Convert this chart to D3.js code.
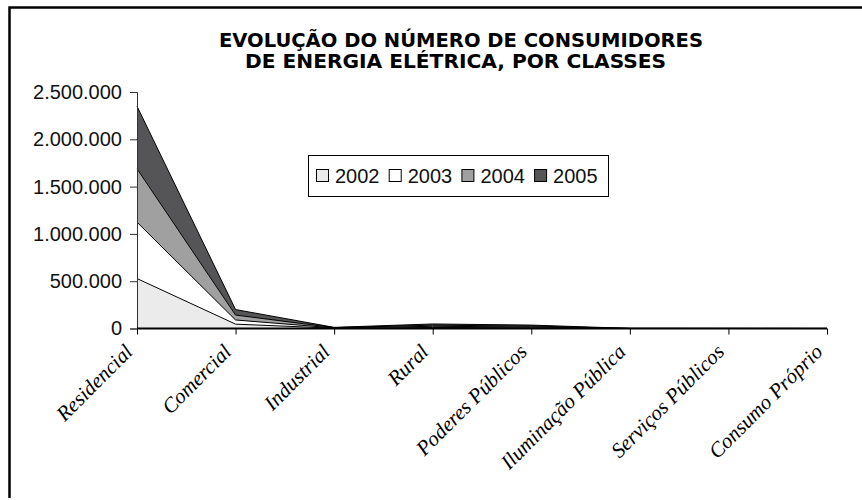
<!DOCTYPE html>
<html>
<head>
<meta charset="utf-8">
<script src="https://cdn.jsdelivr.net/npm/d3@7"></script>
<style>
	body { margin: 0; background: #fff; }
	svg { display: block; }
</style>
</head>
<body>
<svg width="862" height="500"></svg>
<script>
const categories = ["Residencial", "Comercial", "Industrial", "Rural", "Poderes Públicos", "Iluminação Pública", "Serviços Públicos", "Consumo Próprio"];
const years = ["2002", "2003", "2004", "2005"];
const v2002 = [528000, 46000, 3000, 11000, 8000, 300, 200, 100];
const v2003 = [596000, 44000, 3000, 12000, 9000, 300, 200, 100];
const v2004 = [564000, 52000, 3000, 12000, 9000, 300, 200, 100];
const v2005 = [662000, 58000, 3000, 13000, 10000, 300, 200, 100];
const yTicks = [0, 500000, 1000000, 1500000, 2000000, 2500000];
const titleLines = ["EVOLUÇÃO DO NÚMERO DE CONSUMIDORES", "DE ENERGIA ELÉTRICA, POR CLASSES"];
const colors = ["#eaebea", "#ffffff", "#a0a0a0", "#555557"];

const rows = categories.map((c, i) => ({
	cat: c, "2002": v2002[i], "2003": v2003[i], "2004": v2004[i], "2005": v2005[i]
}));

const svg = d3.select("svg");

// frame
svg.append("path")
	.attr("d", "M9.5,498 L9.5,7.5 L862,7.5")
	.attr("fill", "none")
	.attr("stroke", "#000")
	.attr("stroke-width", 2.5);

const x = d3.scalePoint().domain(categories).range([137, 827]);
const y = d3.scaleLinear().domain([0, 2500000]).range([328.5, 92]);

const stack = d3.stack().keys(years)(rows);

const area = d3.area()
	.x(d => x(d.data.cat))
	.y0(d => y(d[0]))
	.y1(d => y(d[1]));

const line = d3.line()
	.x(d => x(d.data.cat))
	.y(d => y(d[1]));

svg.append("g")
	.selectAll("path")
	.data(stack)
	.join("path")
	.attr("d", area)
	.attr("fill", (d, i) => colors[i]);

svg.append("g")
	.selectAll("path")
	.data(stack)
	.join("path")
	.attr("d", line)
	.attr("fill", "none")
	.attr("stroke", "#000")
	.attr("stroke-width", 1);

const locale = d3.formatLocale({ decimal: ",", thousands: ".", grouping: [3], currency: ["", ""] });
const fmt = locale.format(",d");

const yAxis = svg.append("g")
	.attr("transform", "translate(137,0)")
	.call(d3.axisLeft(y).tickValues(yTicks).tickFormat(fmt).tickSize(7).tickPadding(8));
yAxis.select(".domain").attr("stroke", "#333");
yAxis.selectAll(".tick line").attr("stroke", "#333");
yAxis.selectAll("text")
	.attr("font-family", "Arial, 'Liberation Sans', sans-serif")
	.attr("font-size", 20)
	.attr("fill", "#111");

const xAxis = svg.append("g")
	.attr("transform", "translate(0,328.5)")
	.call(d3.axisBottom(x).tickSize(6).tickFormat(""));
xAxis.select(".domain").attr("stroke", "#000").attr("stroke-width", 2.2)
	.attr("d", "M137,0H827");
xAxis.selectAll(".tick line").attr("stroke", "#000");

svg.append("g")
	.selectAll("text")
	.data(categories)
	.join("text")
	.attr("transform", d => `translate(${x(d) - 3},${353}) rotate(-45)`)
	.attr("text-anchor", "end")
	.attr("font-family", "'Times New Roman', 'Liberation Serif', serif")
	.attr("font-style", "italic")
	.attr("font-size", 21)
	.attr("fill", "#000")
	.text(d => d);

// title, two lines in one text element
const title = svg.append("text")
	.attr("font-family", "'DejaVu Sans Condensed', 'DejaVu Sans', sans-serif")
	.attr("font-stretch", "condensed")
	.attr("font-weight", "bold")
	.attr("font-size", 20)
	.attr("fill", "#000");
title.selectAll("tspan")
	.data(titleLines)
	.join("tspan")
	.attr("x", (d, i) => i === 0 ? 219 : 245)
	.attr("y", (d, i) => i === 0 ? 47 : 68)
	.attr("textLength", (d, i) => i === 0 ? 484 : 421)
	.attr("lengthAdjust", "spacingAndGlyphs")
	.text(d => d);

// legend
const legend = svg.append("g").attr("transform", "translate(308,155)");
legend.append("rect")
	.attr("x", 0.5).attr("y", 0.5)
	.attr("width", 300).attr("height", 41)
	.attr("fill", "#fff")
	.attr("stroke", "#000");
const item = legend.selectAll("g.item")
	.data(years)
	.join("g")
	.attr("class", "item")
	.attr("transform", (d, i) => `translate(${8 + i * 72.7},0)`);
item.append("rect")
	.attr("x", 0.5).attr("y", 14.5)
	.attr("width", 12).attr("height", 12)
	.attr("fill", (d, i) => colors[i])
	.attr("stroke", "#000");
item.append("text")
	.attr("x", 19)
	.attr("y", 27.5)
	.attr("font-family", "Arial, 'Liberation Sans', sans-serif")
	.attr("font-size", 20)
	.attr("fill", "#111")
	.text(d => d);
</script>
</body>
</html>
